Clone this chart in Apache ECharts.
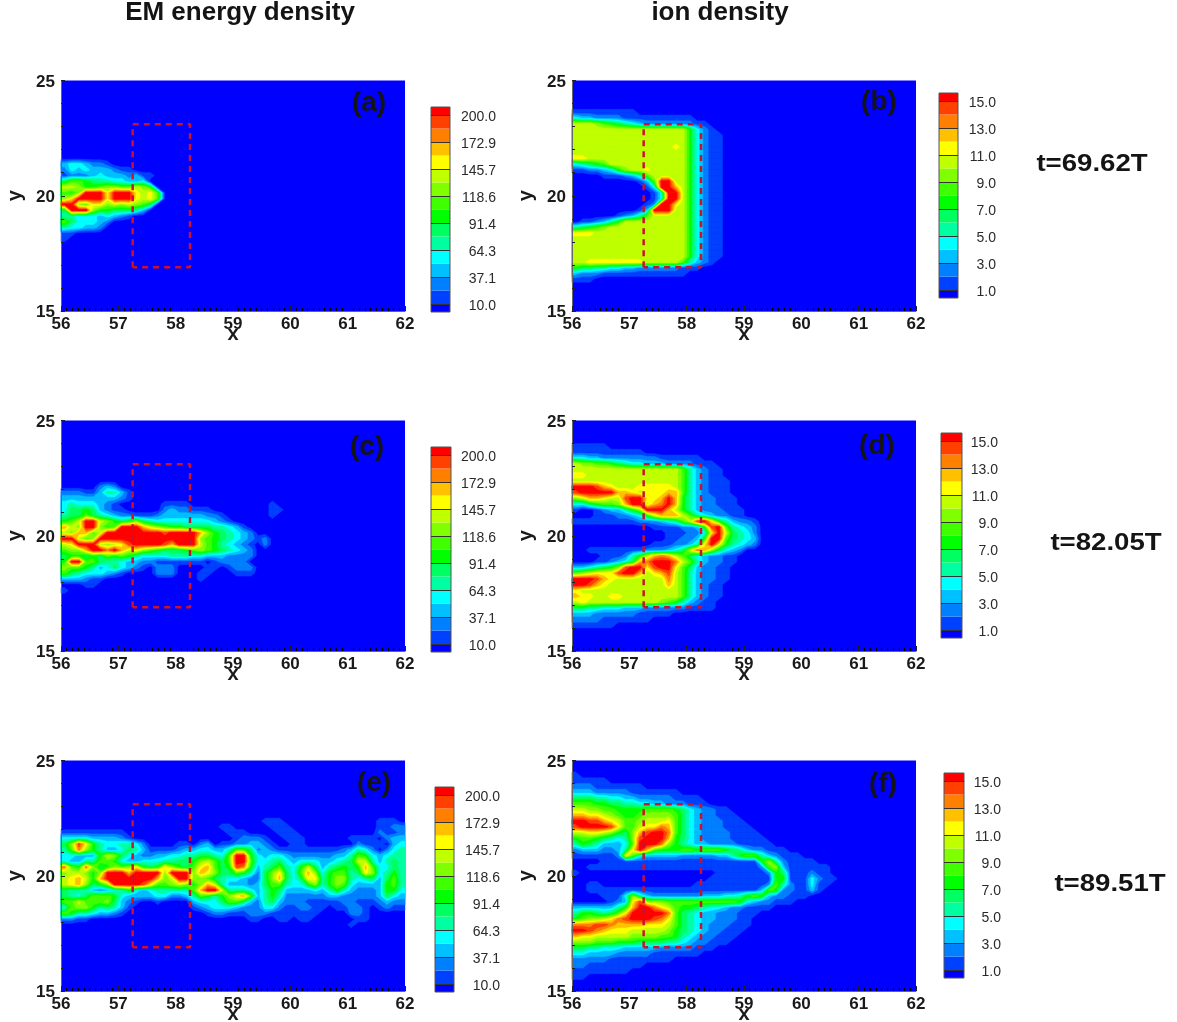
<!DOCTYPE html>
<html><head><meta charset="utf-8">
<style>html,body{margin:0;padding:0;background:#fff}#c{width:1177px;height:1022px}#c canvas{filter:blur(.7px)}</style>
<script src="https://cdn.jsdelivr.net/npm/echarts@6/dist/echarts.min.js"></script>
</head><body><div id="c"></div>
<script>
// Contour band, one hex digit per grid node (0 = background, f = top band).
// Rows run from y=25 downward in steps of 0.25, columns from x=56 rightward in steps of 0.125.
const blank = n => Array(n).fill('');
const panelA = [...blank(14),
"3443221","2434333211","1222343332311","688765544334","aa97789988a97","879fffbfffbab8","9bffffbfffbab8",
"ff98bb9a9a986","6fff97766653","5544434321","8644432","544332","11","1"];
const panelB = [...blank(5),
"111111111","43322221111111111","aaa9876543222222211","aaaaaaaaaaaaaaaa7421","aaaaaaaaaaaaaaaa74211","aaaaaaaaaaaaaaaa74211",
"aaaaaaaaaaaaaaba74211","aaaaaaaaaaaaaaaa74211","bbaaaaaaaaaaaaaa74211","45678aaaaaaaaaaa74211","11223479aabaaaaa74211",
"00001112358aaaaa74211","000000000138ffaa74211","000000000014ffca74211","0000000000014ffa74211","0000000000014ffa74211",
"000000000012ffba74211","00000000013fffaa74211","00000012358aaaaa74211","0112357aaaaaaaaa74211","56789aaaaaaaaaaa74211",
"bbbaaaaaaaaaaaaa74211","aaaaaaaaaaaaaaaa74211","aaaaaaaaaaaaaaaa74211","aaaaaaaaaaaaaaaa74211","aaaaaaaaaaaaaaaa74211",
"aabbbbbbbbaaaaa85321","766554433222222111","3222111111111111","111"];
const panelC = [...blank(11),
"00000232","2221135531","3333333321","454443210000001111000000000001","466763211000002322111"+"0000000011",
"56686543221112333333221"+"0000001","78affa976796544444444321","ca9ff978fffca9877666655431",
"a9cc8affffffffeffffc9765432","ffa89ffffffffffffff98765432"+"12","abfffa9abeffffecfffa8754321"+"02",
"899cffdfcab9876667898765432","677676878754444555443332222","7ff88655433221111111012222",
"988753464321"+"0222"+"0000"+"11"+"0"+"1222","865444321"+"0000"+"222"+"000"+"11"+"000"+"111","333211"+"0000000000000"+"1","00011","1"];
const panelD = [...blank(4),
"11111","1111111111","443322222222111111","a9988765443332222111","aaaaaaaaaaaaaaa853211","bbaaaaaaaaaaaaa853211",
"aaaaaaaaaaaaaaa8532111","fffecbaaabbbbba8532111","efffffccbabbbcc8532111","9accbaaeffbbcfc75322111","4467889cffacdfc75322111",
"1001233579fffca753222111","000111223"+"47accca8"+"5432211","111111111"+"22234"+"58aefb"+"753221",
"00000000000"+"1111"+"223"+"7ef8"+"5432","0000000000000"+"111"+"22"+"4bfa"+"654"+"2","0000000000000"+"11"+"223"+"7ff8"+"6543",
"00000000000"+"111"+"2235"+"bfb7"+"5432","0011111111"+"22234"+"6adc"+"96432","0000111"+"257acdca"+"86432211",
"000112346cdfffda8532211","3345679"+"effbeffb"+"8632211","89abbbeffcabcea8532211","fffecbaaaaaaada8532211",
"ffecbaaaaaaaaca853211","baaaaaaaaaaaaaa853211","cbbaabbaaaaaaaa853211","abaaaaaaaaaa98753211","66554443332222221111",
"33322222211111","22221111111","111111"];
const panelE = [...blank(10),
"000000000000000000"+"0000000000"+"111"+"0000000000000"+"111",
"000000000000000000"+"0000"+"11"+"00000"+"111"+"000000000000"+"1122",
"111111111000000000"+"00000"+"111"+"0000"+"111"+"00000000000"+"2112",
"444433332100000000"+"000000"+"12221"+"00"+"111"+"000000"+"1111"+"0"+"233",
"69eb75445542000011"+"0"+"23"+"0"+"112"+"23321"+"00"+"11"+"0000000"+"2"+"111"+"0"+"34",
"58d975334653111123"+"34433"+"5886"+"2321111"+"1111"+"1235"+"4"+"2"+"0"+"2"+"45",
"443337a96432233445"+"56654"+"8ff7"+"4"+"344322"+"22223"+"3"+"5"+"8"+"7"+"4"+"3"+"4"+"55",
"433558874334445566"+"79a86"+"8ff8"+"4"+"456434"+"44334"+"56aa53565",
"d87d967989b767b976"+"8bc86"+"7ed7"+"3"+"568547"+"a6356"+"767c84465",
"9aa979fffcffff9fff"+"9cb96"+"6875"+"2"+"69b648"+"c9478"+"856b94575",
"abca7cfffffffc9aff"+"99865"+"4432"+"2"+"69c646"+"bb579"+"954563685",
"abc9679ffffeb889a9"+"79ca5"+"3332"+"3"+"688544"+"79579"+"843333785",
"655532345743455555"+"8cffa"+"5554"+"3"+"576333"+"34357"+"532223774",
"654688874333344223"+"58757"+"9bc8"+"3"+"575222"+"22233"+"222223643",
"88a888963210010000"+"34446"+"8863"+"2"+"563222"+"11111"+"221112322",
"489975653100000000"+"12344"+"4322"+"2"+"442112"+"21101"+"122101211",
"875543321000000000"+"00"+"122111"+"222"+"1111111"+"0000"+"221"+"00000",
"221100000000000000"+"00000000"+"11"+"00"+"11"+"0"+"11"+"000000"+"11",
"000000000000000000"+"0000000000000000000000"+"1"];
const panelF = [...blank(2),
"1","11111","2221111111","333222221111111","666554433222221111","8887766554433222111",
"aa99887777888876432211","ccbba987789999864322111","ffeecba889aaab8643222111","effffeb88abbdc86432221111",
"aabba9769ceffd864322221111","788765459efffc7643222211111","576533348fffd975433222211111",
"233322"+"35bfc8"+"777887"+"888765"+"322111","111111"+"2b8433"+"333222"+"223357"+"885321"+"11",
"0000"+"1111111111111111111111"+"79521111","00"+"111111111111111111111111"+"2893"+"111111",
"1"+"0000000000000000000"+"1111111"+"276"+"111211","0000000000000000000"+"111111111"+"77"+"111"+"4211",
"0011"+"0000000000000"+"1111111111"+"285211411","00"+"111111111111111111111111"+"387221131",
"0000"+"111"+"495"+"3"+"22222"+"2233344"+"5787322111","00000"+"123"+"be9998"+"888888888"+"74322111",
"333333"+"57cffd"+"ba8776"+"544322"+"1111","577656"+"8bffff"+"fd8654"+"332221"+"11","7899ab"+"defffe"+"db8654"+"332221"+"1",
"dddeed"+"ccccbb"+"ba8654"+"322211"+"1","ffedcb"+"bbaaaa"+"a97654"+"322111","cbbaaa"+"aa9999"+"887543"+"22111",
"999888"+"777666"+"655432"+"2111","665544"+"433333"+"222221"+"11","443333"+"222221"+"111111","222221"+"11111111","2211111111","11111111","11"];

const emTicks  = [10.0,37.1,64.3,91.4,118.6,145.7,172.9,200.0];
const ionTicks = [1.0,3.0,5.0,7.0,9.0,11.0,13.0,15.0];
const xTicks = [56,57,58,59,60,61,62];
const yTicks = [15,20,25];
const boxX = [57.25,58.25];
const boxY = [16.9,23.1];
const bandColors = ['#0000ff','#0040ff','#0080ff','#00c0ff','#00ffff','#00ffa0','#00ff60','#00ff00',
                    '#40ff00','#80ff00','#c0ff00','#ffff00','#ffc000','#ff8000','#ff4000','#ff0000'];
const times = ['t=69.62T','t=82.05T','t=89.51T'];
const columnTitles = ['EM energy density','ion density'];
const panelLetters = ['(a)','(b)','(c)','(d)','(e)','(f)'];

const NX = 48, NY = 40, FONT = '"Liberation Sans",Arial,sans-serif';
const kinds = {
  em:  {lo:10, hi:200, ticks:emTicks},
  ion: {lo:1,  hi:15,  ticks:ionTicks}
};
Object.values(kinds).forEach(k => k.step = (k.hi - k.lo) / 14);
const layout = [
  {rows:panelA, kind:'em',  l:61,  t:80.5,  bx:431, by:107, bw:19, m:46, lx:369, ly:103},
  {rows:panelB, kind:'ion', l:572, t:80.5,  bx:939, by:93,  bw:19, m:38, lx:879, ly:102},
  {rows:panelC, kind:'em',  l:61,  t:420.5, bx:431, by:447, bw:20, m:45, lx:367, ly:447},
  {rows:panelD, kind:'ion', l:572, t:420.5, bx:941, by:433, bw:21, m:36, lx:877, ly:446},
  {rows:panelE, kind:'em',  l:61,  t:760.5, bx:435, by:787, bw:19, m:46, lx:374, ly:783},
  {rows:panelF, kind:'ion', l:572, t:760.5, bx:944, by:773, bw:20, m:37, lx:883, ly:784}
];

// node positions: border nodes sit on the plot edge and repeat the nearest row/column
const nodeX = [56, ...Array.from({length:NX}, (_, i) => 56 + 0.125 * (i + 0.5)), 62];
const nodeY = [25, ...Array.from({length:NY}, (_, j) => 25 - 0.25 * (j + 0.5)), 15];
function field(rows) {
  const at = (i, j) => {
    const r = rows[Math.min(NY - 1, Math.max(0, j))] || '';
    const c = r[Math.min(NX - 1, Math.max(0, i))];
    return c ? parseInt(c, 16) : 0;
  };
  return nodeY.map((_, j) => nodeX.map((_, i) => at(i - 1, j - 1)));
}
// closed outline, in data units, of the part of one grid square at or above a band
function clipSquare(F, i, j, th) {
  const c = [[i, j], [i + 1, j], [i + 1, j + 1], [i, j + 1]];
  const out = [];
  for (let n = 0; n < 4; n++) {
    const a = c[n], b = c[(n + 1) % 4];
    const fa = F[a[1]][a[0]], fb = F[b[1]][b[0]];
    if (fa >= th) out.push([nodeX[a[0]], nodeY[a[1]]]);
    if ((fa >= th) !== (fb >= th)) {
      const u = (th - fa) / (fb - fa);
      out.push([nodeX[a[0]] + u * (nodeX[b[0]] - nodeX[a[0]]), nodeY[a[1]] + u * (nodeY[b[1]] - nodeY[a[1]])]);
    }
  }
  return out;
}

const grid = [], xAxis = [], yAxis = [], series = [], graphic = [];
const W = 344, H = 230.5, BAR_H = 205, PAD = 8 / 13.5;

layout.forEach((p, n) => {
  const k = kinds[p.kind];
  const g1 = grid.length;
  grid.push({left:p.l, top:p.t, width:W, height:H, show:true, backgroundColor:'#0000ff', borderWidth:0, outerBoundsMode:'none'});
  const labelStyle = {fontFamily:FONT, fontWeight:'bold', fontSize:17, color:'#1a1a1a'};
  xAxis.push({type:'value', gridIndex:g1, min:56, max:62, interval:1, z:6,
    name:'x', nameLocation:'middle', nameGap:13, nameMoveOverlap:false,
    nameTextStyle:{fontFamily:FONT, fontWeight:'bold', fontSize:20, color:'#1a1a1a'},
    axisLine:{show:true, onZero:false, lineStyle:{color:'#666', width:1}},
    axisTick:{show:true, inside:true, length:5, lineStyle:{color:'#222'}},
    minorTick:{show:true, splitNumber:10, length:3, lineStyle:{color:'#000', width:1.2}},
    splitLine:{show:false},
    axisLabel:{...labelStyle, margin:5, showMinLabel:true, showMaxLabel:true, formatter:v => xTicks.includes(v) ? String(v) : ''}});
  yAxis.push({type:'value', gridIndex:g1, min:15, max:25, interval:5, z:6,
    name:'y', nameLocation:'middle', nameGap:36, nameRotate:90, nameMoveOverlap:false,
    nameTextStyle:{fontFamily:FONT, fontWeight:'bold', fontSize:20, color:'#1a1a1a'},
    axisLine:{show:true, onZero:false, lineStyle:{color:'#666', width:1}},
    axisTick:{show:true, inside:true, length:4, lineStyle:{color:'#222'}},
    minorTick:{show:true, splitNumber:5, length:3, lineStyle:{color:'#222'}},
    splitLine:{show:false},
    axisLabel:{...labelStyle, margin:6, verticalAlign:'top', lineHeight:3, formatter:v => yTicks.includes(v) ? String(v) : ''}});

  // filled contour bands, painted from the lowest band up
  const F = field(p.rows);
  const contourLevels = bandColors.slice(1).map((_, l) => k.lo + l * k.step);
  series.push({type:'custom', xAxisIndex:g1, yAxisIndex:g1, silent:true, animation:false, z:2,
    data:contourLevels.map(v => [v]), encode:{tooltip:0},
    renderItem(params, api) {
      const L = params.dataIndex + 1, th = L - 0.5, children = [];
      for (let j = 0; j < nodeY.length - 1; j++) for (let i = 0; i < nodeX.length - 1; i++) {
        const poly = clipSquare(F, i, j, th);
        if (poly.length > 2) children.push({type:'polygon', shape:{points:poly.map(q => api.coord(q))},
          style:{fill:bandColors[L], stroke:bandColors[L], lineWidth:0.5}});
      }
      return {type:'group', children};
    }});

  series.push({type:'line', xAxisIndex:g1, yAxisIndex:g1, symbol:'none', animation:false, silent:true, z:8,
    lineStyle:{color:'#cc1030', width:2.5, type:[6,5]},
    data:[[boxX[0],boxY[0]],[boxX[0],boxY[1]],[boxX[1],boxY[1]],[boxX[1],boxY[0]],[boxX[0],boxY[0]]]});

  // colour bar
  const g2 = grid.length;
  grid.push({left:p.bx, top:p.by, width:p.bw, height:BAR_H, show:true, z:5, backgroundColor:'transparent', borderColor:'#555', borderWidth:1, outerBoundsMode:'none'});
  xAxis.push({type:'category', gridIndex:g2, data:['c'], show:false});
  yAxis.push({type:'value', gridIndex:g2, position:'right', z:6,
    min:k.lo - PAD * k.step, max:k.hi + PAD * k.step,
    axisLine:{show:false}, splitLine:{show:false},
    axisTick:{show:true, inside:true, length:p.bw, customValues:k.ticks, lineStyle:{color:'#333', width:1}},
    axisLabel:{show:true, inside:false, customValues:k.ticks, margin:p.m, align:'right', verticalAlign:'top', lineHeight:5,
      fontFamily:FONT, fontSize:14, color:'#2a2a2a', formatter:v => Number(v).toFixed(1)}});
  bandColors.forEach((c, l) => {
    const v = l === 0 ? k.lo : l === 15 ? PAD * k.step : k.step;
    series.push({type:'bar', xAxisIndex:g2, yAxisIndex:g2, stack:'bar' + n, barWidth:'100%', data:[v],
      itemStyle:{color:c}, silent:true, animation:false});
  });

  graphic.push({type:'text', z:20, silent:true,
    style:{text:panelLetters[n], x:p.lx, y:p.ly, textAlign:'center', textVerticalAlign:'middle',
      font:'bold 28px ' + FONT, fill:'#141414'}});
});

const textEl = (text, x, y, size, sx) => ({type:'text', z:20, silent:true, x, y, scaleX:sx,
  style:{text, x:0, y:0, textAlign:'center', textVerticalAlign:'middle', font:'bold ' + size + 'px ' + FONT, fill:'#141414'}});
graphic.push(textEl(columnTitles[0], 240, 13, 26, 1), textEl(columnTitles[1], 720, 13, 26, 1));
graphic.push(textEl(times[0], 1092, 164, 24, 1.15), textEl(times[1], 1106, 543, 24, 1.15), textEl(times[2], 1110, 884, 24, 1.15));

const chart = echarts.init(document.getElementById('c'), null, {renderer:'canvas', width:1177, height:1022});
chart.setOption({animation:false, backgroundColor:'#ffffff', grid, xAxis, yAxis, series, graphic});
</script></body></html>
